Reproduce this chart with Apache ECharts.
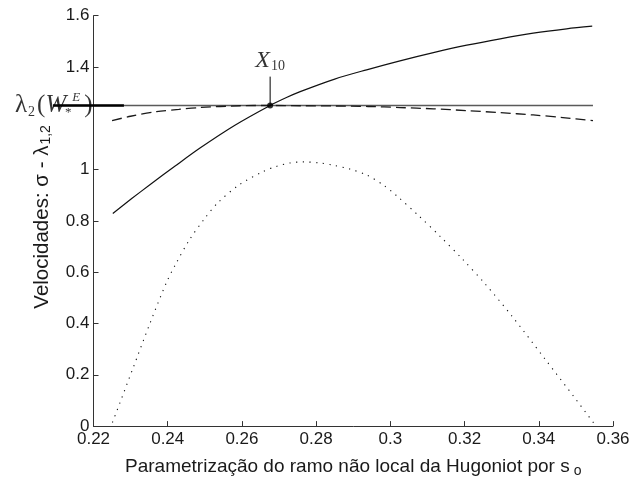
<!DOCTYPE html>
<html>
<head>
<meta charset="utf-8">
<script src="https://cdn.jsdelivr.net/npm/echarts@6/dist/echarts.min.js"></script>
<style>
  html, body { margin: 0; padding: 0; background: #fff; }
  #chart { width: 633px; height: 483px; }
</style>
</head>
<body>
<div id="chart"></div>
<script>
// Shock speed sigma along the non-local Hugoniot branch (solid)
const sigmaX = [0.2252, 0.2303, 0.2352, 0.2420, 0.2487, 0.2580, 0.2676, 0.2720, 0.2757, 0.2850, 0.2936, 0.3026, 0.3116, 0.3206, 0.3296, 0.3385, 0.3475, 0.3544];
const sigmaY = [0.829, 0.887, 0.941, 1.014, 1.084, 1.172, 1.250, 1.281, 1.304, 1.353, 1.389, 1.424, 1.456, 1.485, 1.510, 1.532, 1.549, 1.559];

// Characteristic speed lambda_2 (dashed)
const lambda2X = [0.2250, 0.2300, 0.2370, 0.2430, 0.2487, 0.2595, 0.2676, 0.2757, 0.2850, 0.2940, 0.3026, 0.3116, 0.3206, 0.3296, 0.3385, 0.3465, 0.3546];
const lambda2Y = [1.191, 1.208, 1.226, 1.235, 1.242, 1.249, 1.250, 1.249, 1.248, 1.246, 1.242, 1.237, 1.230, 1.222, 1.213, 1.203, 1.191];

// Characteristic speed lambda_1 (dotted)
const lambda1X = [0.2251, 0.2271, 0.2307, 0.2352, 0.2397, 0.2422, 0.2458, 0.2501, 0.2536, 0.2593, 0.2658, 0.2692, 0.2730, 0.2765, 0.2810, 0.2846, 0.2891, 0.2936, 0.2981, 0.3017, 0.3075, 0.3134, 0.3195, 0.3255, 0.3327, 0.3417, 0.3496, 0.3550];
const lambda1Y = [0.014, 0.090, 0.228, 0.400, 0.561, 0.633, 0.725, 0.812, 0.872, 0.941, 0.993, 1.012, 1.026, 1.030, 1.026, 1.017, 1.002, 0.979, 0.940, 0.898, 0.822, 0.740, 0.650, 0.555, 0.430, 0.261, 0.112, 0.008];

// Reference level lambda_2(W*^E): full line and the heavy stub that reaches past the axis
const refLevel = 1.25;
const refLine = [0.2091, 0.3546];
const refStub = [0.2091, 0.2282];

// Crossing point X_10 and the top of its pointer
const x10 = [0.2676, 1.25];
const x10StickTop = 1.3625;

// Axis ticks (no tick at 1.2: the level label sits there)
const xTicks = [0.22, 0.24, 0.26, 0.28, 0.30, 0.32, 0.34, 0.36];
const yTicks = [0, 0.2, 0.4, 0.6, 0.8, 1, 1.4, 1.6];

const zip = (xs, ys) => xs.map((x, i) => [x, ys[i]]);

const chart = echarts.init(document.getElementById('chart'), null, { renderer: 'canvas' });

const sans = 'Liberation Sans, Arial, sans-serif';
const serif = 'Liberation Serif, Times New Roman, serif';
const ink = '#1a1a1a';

// Horizontal segment drawn through the axis scales, allowed to run outside the grid
function hSegment(color, width) {
  return function (params, api) {
    const a = api.coord([api.value(0), api.value(2)]);
    const b = api.coord([api.value(1), api.value(2)]);
    return {
      type: 'line',
      shape: { x1: a[0], y1: a[1], x2: b[0], y2: b[1] },
      style: { stroke: color, lineWidth: width }
    };
  };
}

chart.setOption({
  animation: false,
  backgroundColor: '#fff',
  grid: { left: 93.5, right: 20, top: 15.7, bottom: 56 },
  xAxis: {
    type: 'value',
    min: 0.22, max: 0.36, interval: 0.02,
    name: '{t|Parametrização do ramo não local da Hugoniot por s}{s|o}',
    nameLocation: 'middle',
    nameGap: 24,
    nameTextStyle: {
      rich: {
        t: { fontFamily: sans, fontSize: 19, color: ink, lineHeight: 22 },
        s: { fontFamily: sans, fontSize: 14, color: ink, lineHeight: 12, verticalAlign: 'bottom', padding: [11, 0, 0, 4] }
      }
    },
    splitLine: { show: false },
    axisLine: { lineStyle: { color: '#333', width: 1 } },
    axisTick: { inside: true, length: 5, lineStyle: { color: '#333' }, customValues: xTicks },
    axisLabel: { customValues: xTicks, fontFamily: sans, fontSize: 17, color: ink, margin: 5 }
  },
  yAxis: {
    type: 'value',
    min: 0, max: 1.6, interval: 0.2,
    name: '{t|Velocidades: σ - λ}{s|1,2}',
    nameLocation: 'middle',
    nameGap: 40,
    nameRotate: 90,
    nameTextStyle: {
      rich: {
        t: { fontFamily: sans, fontSize: 20.5, color: ink, lineHeight: 23, padding: [0, 0, 0, 8] },
        s: { fontFamily: sans, fontSize: 14, color: ink, lineHeight: 12, verticalAlign: 'bottom', padding: [9, 0, 0, 1] }
      }
    },
    splitLine: { show: false },
    axisLine: { show: true, lineStyle: { color: '#333', width: 1 } },
    axisTick: { show: true, inside: true, length: 5, lineStyle: { color: '#333' }, customValues: yTicks },
    axisLabel: { customValues: yTicks, fontFamily: sans, fontSize: 17, color: ink, margin: 4 }
  },
  series: [
    {
      name: 'lambda2 level',
      type: 'custom',
      clip: false,
      silent: true,
      renderItem: hSegment('#5a5a5a', 1.6),
      data: [[refLine[0], refLine[1], refLevel]],
      z: 2
    },
    {
      name: 'lambda2 level stub',
      type: 'custom',
      clip: false,
      silent: true,
      renderItem: hSegment('#000', 2.6),
      data: [[refStub[0], refStub[1], refLevel]],
      z: 3
    },
    {
      name: 'sigma',
      type: 'line',
      data: zip(sigmaX, sigmaY),
      symbol: 'none',
      smooth: 0.3,
      lineStyle: { color: '#111', width: 1.2 },
      z: 4
    },
    {
      name: 'lambda2',
      type: 'line',
      data: zip(lambda2X, lambda2Y),
      symbol: 'none',
      smooth: 0.3,
      lineStyle: { color: '#1a1a1a', width: 1.3, type: [10, 5] },
      z: 4
    },
    {
      name: 'lambda1',
      type: 'line',
      data: zip(lambda1X, lambda1Y),
      symbol: 'none',
      smooth: 0.3,
      lineStyle: { color: '#111', width: 1.1, type: [1.2, 5.5] },
      z: 4
    },
    {
      name: 'X10 stick',
      type: 'line',
      data: [x10, [x10[0], x10StickTop]],
      symbol: 'none',
      lineStyle: { color: '#000', width: 1 },
      z: 5
    },
    {
      name: 'X10 label',
      type: 'scatter',
      data: [[x10[0], x10StickTop]],
      symbolSize: 0,
      silent: true,
      label: {
        show: true,
        position: 'top',
        distance: 3,
        formatter: '{x|X}{n|10}',
        rich: {
          x: { fontFamily: serif, fontStyle: 'italic', fontSize: 24, color: '#000', lineHeight: 26 },
          n: { fontFamily: serif, fontSize: 14, color: '#000', lineHeight: 12, verticalAlign: 'bottom', padding: [6, 0, 0, 1] }
        }
      },
      z: 6
    },
    {
      name: 'X10',
      type: 'scatter',
      data: [x10],
      symbol: 'circle',
      symbolSize: 6,
      itemStyle: { color: '#000' },
      z: 6
    },
    {
      name: 'lambda2 label',
      type: 'scatter',
      data: [[0.22, refLevel]],
      symbolSize: 0,
      silent: true,
      clip: false,
      label: {
        show: true,
        position: 'left',
        distance: 1,
        formatter: '{l|λ}{s|2}{p|(}{w|W}{st|*}{e|E}{p|)}',
        rich: {
          l: { fontFamily: serif, fontSize: 25, color: '#000', lineHeight: 28 },
          s: { fontFamily: serif, fontSize: 14, color: '#000', lineHeight: 12, verticalAlign: 'bottom', padding: [0, 2, 0, 1] },
          p: { fontFamily: serif, fontSize: 25, color: '#000', lineHeight: 28 },
          w: { fontFamily: serif, fontStyle: 'italic', fontSize: 25, color: '#000', lineHeight: 28 },
          st: { fontFamily: serif, fontSize: 13, color: '#000', lineHeight: 12, verticalAlign: 'bottom', width: 4, align: 'left' },
          e: { fontFamily: serif, fontStyle: 'italic', fontSize: 13, color: '#000', lineHeight: 12, verticalAlign: 'top', padding: [0, 4, 0, 2] }
        }
      },
      z: 6
    }
  ]
});
</script>
</body>
</html>
